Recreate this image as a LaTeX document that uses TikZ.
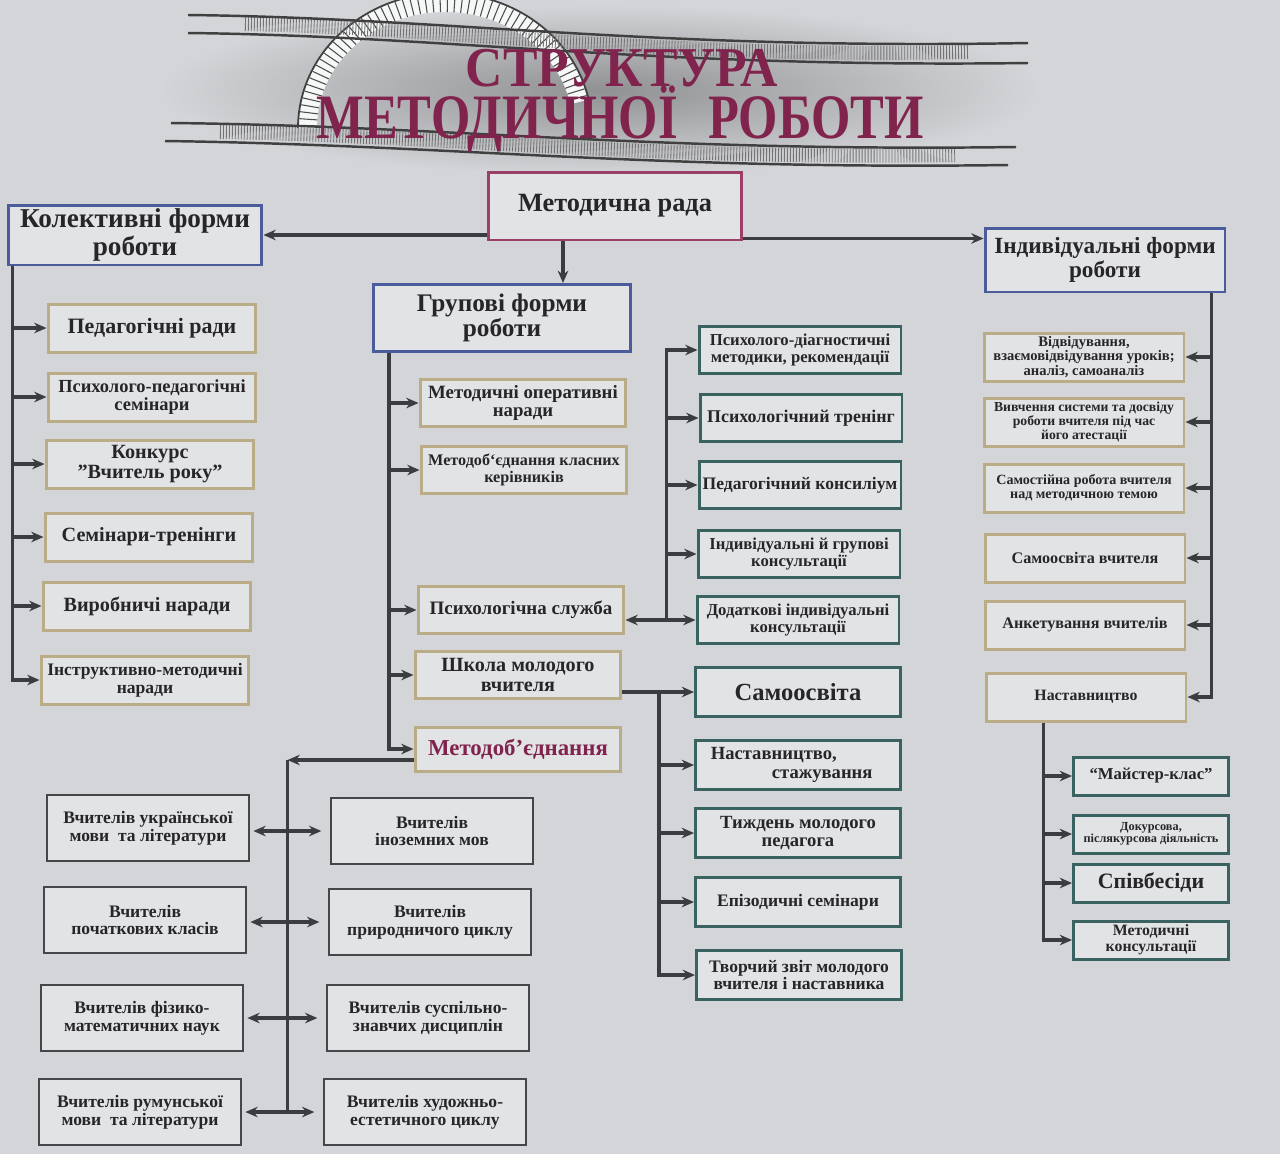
\documentclass[tikz,border=0pt]{standalone}
\usepackage{fontspec}
\setmainfont{Liberation Serif}
\usetikzlibrary{arrows.meta,positioning,calc}
\definecolor{paper}{RGB}{212,213,216}
\definecolor{boxbg}{RGB}{226,227,229}
\definecolor{ink}{RGB}{38,38,42}
\definecolor{wirecol}{RGB}{58,60,64}
\definecolor{frblue}{RGB}{74,92,155}
\definecolor{frred}{RGB}{155,62,104}
\definecolor{frtan}{RGB}{186,172,134}
\definecolor{frteal}{RGB}{58,98,96}
\definecolor{frgrey}{RGB}{70,70,74}
\definecolor{titlered}{RGB}{128,36,78}
\newcommand\bxfont[1]{\bfseries\fontsize{#1}{#1}\selectfont}

\begin{document}
\begin{tikzpicture}[x=0.02cm,y=-0.02cm,
    box/.style={draw, line width=1.7pt, fill=boxbg, text=ink, align=center, inner sep=1pt},
    main/.style={box, draw=frblue},
    tanl/.style={box, draw=frtan, minimum width=4.16cm, minimum height=0.96cm},
    tang/.style={box, draw=frtan, minimum width=4.12cm, minimum height=0.94cm},
    tanr/.style={box, draw=frtan, minimum width=4cm, minimum height=0.96cm},
    teal/.style={box, draw=frteal, minimum width=4.04cm, minimum height=0.94cm},
    tealw/.style={box, draw=frteal, minimum width=4.1cm, minimum height=0.98cm},
    tealsm/.style={box, draw=frteal, minimum width=3.1cm, minimum height=0.76cm},
    mobox/.style={box, draw=frgrey, line width=1pt, minimum width=4.04cm, minimum height=1.32cm, font=\bxfont{10}},
    wire/.style={draw=wirecol, line width=2.2pt},
    arr/.style={wire, -{Stealth[length=7pt,width=6pt]}},
    darr/.style={wire, {Stealth[length=7pt,width=6pt]}-{Stealth[length=7pt,width=6pt]}},
    bandline/.style={draw=black!75, line width=1.4pt},
    bandtick/.style={draw=black!55, line width=0.28cm, dash pattern=on 0.5pt off 1.2pt},
    titletext/.style={anchor=base, text=titlered, inner sep=0pt},
]
\useasboundingbox (0,0) rectangle (1280,1154);
\fill[paper] (0,0) rectangle (1280,1154);

% title
\shade[inner color=paper!68!black, outer color=paper] (600,90) ellipse [x radius=440, y radius=85];
\draw[white!80!paper, line width=0.36cm] (445,128) ++(-180:137 and 125) arc[start angle=-180, end angle=-12, x radius=137, y radius=125];
\foreach \a in {-179,-176,...,-12}
  \draw[black!70, line width=0.6pt] ($(445,128)+(\a:128 and 116)$) -- ($(445,128)+(\a:146 and 134)$);
\draw[black!75, line width=1pt] (445,128) ++(-180:147 and 135) arc[start angle=-180, end angle=-12, x radius=147, y radius=135];
\draw[bandtick] (245,24) .. controls (450,28) and (650,58) .. (970,52);
\draw[bandline] (188,15) .. controls (450,18) and (650,50) .. (1028,43);
\draw[bandline] (188,33) .. controls (450,36) and (650,68) .. (1028,63);
\draw[bandtick] (220,132) .. controls (450,136) and (650,160) .. (955,155);
\draw[bandline] (171,123) .. controls (450,126) and (650,152) .. (1016,147);
\draw[bandline] (165,141) .. controls (450,145) and (650,170) .. (1008,165);
\node[titletext, font=\bfseries\fontsize{32}{32}\selectfont] (ttop) at (622,86) {\scalebox{0.92}[1]{СТРУКТУРА}};
\node[titletext, font=\bfseries\fontsize{36}{36}\selectfont] (tbot) at (620,138) {\scalebox{0.8}[1]{МЕТОДИЧНОЇ\hspace{0.6em}РОБОТИ}};

% top level
\node[box, draw=frred, minimum width=5.08cm, minimum height=1.36cm, font=\bxfont{15}] (rada) at (615,206) {Методична рада};
\node[main, minimum width=5.08cm, minimum height=1.2cm, font=\bxfont{15.5}] (kol) at (135,235) {Колективні форми\\роботи};
\node[main, minimum width=4.8cm, minimum height=1.28cm, font=\bxfont{13.2}] (ind) at (1105,260) {Індивідуальні форми\\роботи};
\node[main, minimum width=5.14cm, minimum height=1.34cm, font=\bxfont{14.4}] (grup) at (502,318) {Групові форми\\роботи};
\draw[arr] (rada.west |- kol.east) -- (kol.east);
\draw[arr] ($(rada.south east)+(0,-3)$) coordinate (r1) -- (r1 -| ind.west);
\draw[arr] ($(rada.south)+(-52,0)$) coordinate (r2) -- (r2 |- grup.north);

% collective forms
\foreach \n/\x/\y/\s/\t in {pedr/152/328/12.5/{Педагогічні ради},
    pps/152/397/10.5/{Психолого-педагогічні\\семінари},
    konk/150/464/11.5/{Конкурс\\”Вчитель року”},
    semtr/149/537/11.5/{Семінари-тренінги},
    vyrn/147/606/11.5/{Виробничі наради},
    instr/145/680/10/{Інструктивно-методичні\\наради}}
  \node[tanl, font=\bxfont{\s}] (\n) at (\x,\y) {\t};
\coordinate (kt) at ($(kol.south west)+(6,0)$);
\draw[arr] (kt) |- (instr.west);
\foreach \n in {pedr,pps,konk,semtr,vyrn}
  \draw[arr] (kt |- \n.west) -- (\n.west);

% group forms
\foreach \n/\x/\y/\s/\t in {mon/523/403/10.7/{Методичні оперативні\\наради},
    mok/524/470/9.2/{Методоб`єднання класних\\керівників},
    psl/521/610/10.8/{Психологічна служба},
    shk/518/675/11.5/{Школа молодого\\вчителя}}
  \node[tang, font=\bxfont{\s}] (\n) at (\x,\y) {\t};
\node[tang, minimum height=0.88cm, text=titlered, font=\bxfont{13}] (mob) at (518,749) {Методоб’єднання};
\coordinate (gt) at ($(grup.south west)+(17,0)$);
\draw[arr] (gt) |- (mob.west);
\foreach \n in {mon,mok,psl,shk}
  \draw[arr] (gt |- \n.west) -- (\n.west);

% psychological service
\foreach \n/\x/\y/\s/\t in {pdm/800/350/9.5/{Психолого-діагностичні\\методики, рекомендації},
    ptr/801/418/10.2/{Психологічний тренінг},
    pkon/800/485/10/{Педагогічний консиліум},
    igk/799/554/9.5/{Індивідуальні й групові\\консультації},
    dik/798/620/9.5/{Додаткові індивідуальні\\консультації}}
  \node[teal, font=\bxfont{\s}] (\n) at (\x,\y) {\t};
\draw[darr] (psl.east |- dik.west) -- (dik.west);
\coordinate (pt) at ($(dik.west)+(-29,0)$);
\draw[arr] (pt) |- (pdm.west);
\foreach \n in {ptr,pkon,igk}
  \draw[arr] (pt |- \n.west) -- (\n.west);

% young teacher school
\foreach \n/\x/\y/\s/\t in {sam/798/692/14/{Самоосвіта},
    nast/798/765/10.6/{Наставництво,\hspace*{2.6em}\\\hspace*{2.6em}стажування},
    tyzh/798/833/10.6/{Тиждень молодого\\педагога},
    epiz/798/902/10/{Епізодичні семінари},
    tvor/799/975/10/{Творчий звіт молодого\\вчителя і наставника}}
  \node[tealw, font=\bxfont{\s}] (\n) at (\x,\y) {\t};
\draw[arr] (shk.east |- sam.west) -- (sam.west);
\coordinate (st) at ($(sam.west)+(-35,0)$);
\draw[arr] (st) |- (tvor.west);
\foreach \n in {nast,tyzh,epiz}
  \draw[arr] (st |- \n.west) -- (\n.west);

% subject associations
\foreach \n/\x/\y/\t in {ukr/148/828/{Вчителів української\\мови\ \ та літератури},
    inoz/432/831/{Вчителів\\іноземних мов},
    poch/145/920/{Вчителів\\початкових класів},
    pryr/430/922/{Вчителів\\природничого циклу},
    fiz/142/1018/{Вчителів фізико-\\математичних наук},
    susp/428/1018/{Вчителів суспільно-\\знавчих дисциплін},
    rum/140/1112/{Вчителів румунської\\мови\ \ та літератури},
    khud/425/1112/{Вчителів художньо-\\естетичного циклу}}
  \node[mobox] (\n) at (\x,\y) {\t};
\coordinate (mt) at ($(mob.west)+(-126,11)$);
\draw[arr] ($(mob.west)+(0,11)$) -- (mt);
\draw[wire] (mt) -- (mt |- rum.east);
\foreach \a/\b in {ukr/inoz,poch/pryr,fiz/susp,rum/khud}
  \draw[darr, shorten <=2pt, shorten >=5pt] (\a.east |- \b.west) -- (\b.west);

% individual forms
\foreach \n/\x/\y/\s/\t in {vidv/1084/357/8.3/{Відвідування,\\взаємовідвідування уроків;\\аналіз, самоаналіз},
    vyvch/1084/422/7.8/{Вивчення системи та досвіду\\роботи вчителя під час\\його атестації},
    samr/1084/488/8/{Самостійна робота вчителя\\над методичною темою},
    samv/1085/558/9.2/{Самоосвіта вчителя},
    anket/1085/625/9.2/{Анкетування вчителів},
    nastv/1086/697/9/{Наставництво}}
  \node[tanr, font=\bxfont{\s}] (\n) at (\x,\y) {\t};
\coordinate (it) at ($(ind.south east)+(-15,0)$);
\draw[arr] (it) |- (nastv.east);
\foreach \n in {vidv,vyvch,samr,samv,anket}
  \draw[arr] (it |- \n.east) -- (\n.east);

% mentoring
\foreach \n/\x/\y/\s/\t in {majst/1151/776/9.5/{“Майстер-клас”},
    dok/1151/834/7/{Докурсова,\\післякурсова діяльність},
    spiv/1151/883/12.5/{Співбесіди},
    mkons/1151/940/9/{Методичні\\консультації}}
  \node[tealsm, font=\bxfont{\s}] (\n) at (\x,\y) {\t};
\coordinate (nt) at ($(nastv.south west)+(59,0)$);
\draw[arr] (nt) |- (mkons.west);
\foreach \n in {majst,dok,spiv}
  \draw[arr] (nt |- \n.west) -- (\n.west);
\end{tikzpicture}
\end{document}
